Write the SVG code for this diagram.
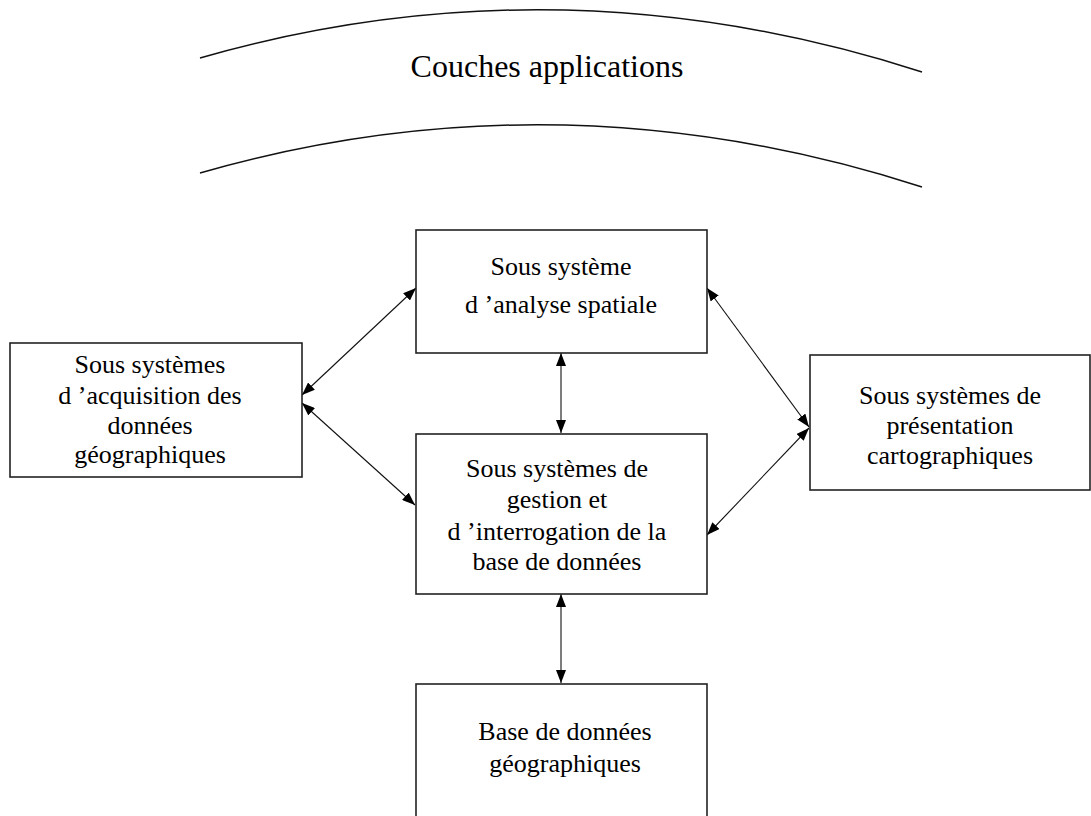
<svg xmlns="http://www.w3.org/2000/svg" width="1091" height="816" viewBox="0 0 1091 816">
<defs>
<style>
.box{fill:#fff;stroke:#222;stroke-width:1.6}
.t{font-family:"Liberation Serif","Times New Roman",serif;font-size:26px;fill:#000;text-anchor:middle}
.title{font-family:"Liberation Serif","Times New Roman",serif;font-size:32px;fill:#000;text-anchor:middle}
.arc{fill:none;stroke:#111;stroke-width:1.5}
.c{stroke:#111;stroke-width:1.1;fill:none;marker-start:url(#ah);marker-end:url(#ah)}
</style>
<marker id="ah" viewBox="0 0 13 10" refX="13" refY="5" markerWidth="13" markerHeight="10" markerUnits="userSpaceOnUse" orient="auto-start-reverse">
<path d="M0,0 L13,5 L0,10 z" fill="#000"/>
</marker>
</defs>
<rect width="1091" height="816" fill="#fff"/>
<g id="layer">
<path class="arc" d="M200,58 Q559,-45 922,72"/>
<path class="arc" d="M200,173 Q559,70 922,187"/>
<text class="title" x="547" y="77">Couches applications</text>
</g>
<g id="connectors">
<line class="c" x1="302" y1="395" x2="416" y2="288"/>
<line class="c" x1="302" y1="403" x2="415" y2="505"/>
<line class="c" x1="561" y1="353" x2="561" y2="433"/>
<line class="c" x1="809" y1="427" x2="707" y2="288"/>
<line class="c" x1="809" y1="428" x2="707" y2="535"/>
<line class="c" x1="561" y1="594" x2="561" y2="683"/>
</g>
<g id="acquisition">
<rect class="box" x="10" y="343" width="292" height="134"/>
<text class="t" x="150" y="373">Sous systèmes</text>
<text class="t" x="150" y="404">d ’acquisition des</text>
<text class="t" x="150" y="434">données</text>
<text class="t" x="150" y="463">géographiques</text>
</g>
<g id="analyse">
<rect class="box" x="416" y="230" width="291" height="123"/>
<text class="t" x="561" y="275">Sous système</text>
<text class="t" x="561" y="313">d ’analyse spatiale</text>
</g>
<g id="gestion">
<rect class="box" x="416" y="434" width="291" height="160"/>
<text class="t" x="557" y="477">Sous systèmes de</text>
<text class="t" x="557" y="508">gestion et</text>
<text class="t" x="557" y="540">d ’interrogation de la</text>
<text class="t" x="557" y="570">base de données</text>
</g>
<g id="presentation">
<rect class="box" x="810" y="355" width="280" height="135"/>
<text class="t" x="950" y="404">Sous systèmes de</text>
<text class="t" x="950" y="434">présentation</text>
<text class="t" x="950" y="464">cartographiques</text>
</g>
<g id="base">
<rect class="box" x="416" y="684" width="291" height="140"/>
<text class="t" x="565" y="740">Base de données</text>
<text class="t" x="565" y="772">géographiques</text>
</g>
</svg>
